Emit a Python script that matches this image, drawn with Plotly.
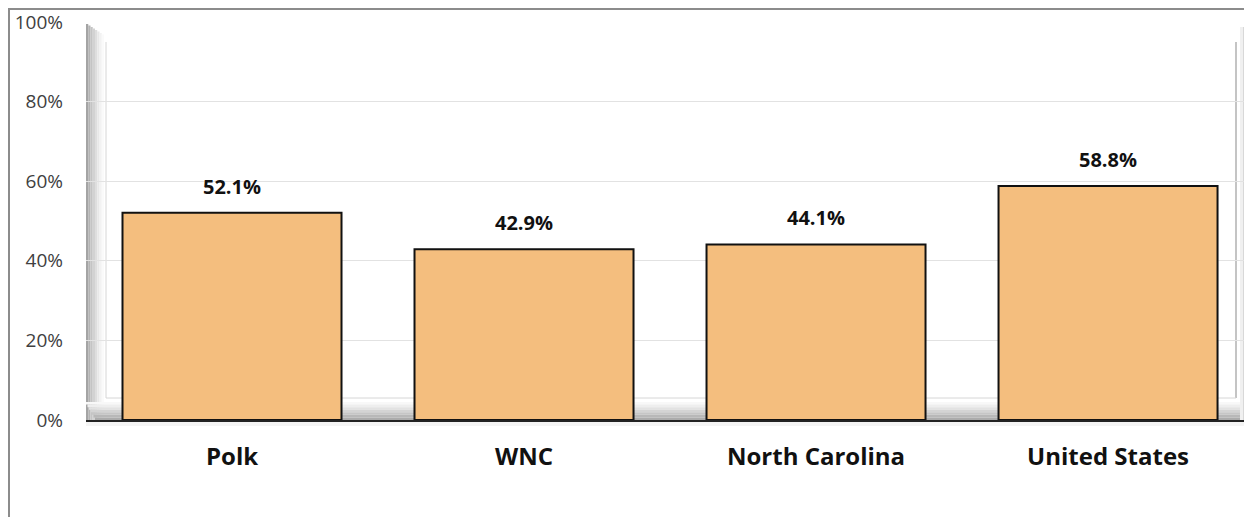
# Share of population by area - Excel style 3D column chart

import plotly.graph_objects as go

areas = ['Polk', 'WNC', 'North Carolina', 'United States']
shares = [52.1, 42.9, 44.1, 58.8]
y_ticks = [0, 20, 40, 60, 80, 100]
y_tick_labels = ['0%', '20%', '40%', '60%', '80%', '100%']

# page has an 8px body margin, so the figure is drawn 8px in from the top left
OFF = 8
W, H = 1252 - OFF, 517 - OFF
L, R, T, B = 86, 1252, 22, 420   # plot area in screen pixels

# convert screen pixel positions to paper coordinates
def px(x):
    return (x - L) / (R - L)

def py(y):
    return (B - y) / (B - T)

shapes = []

# outer chart border
shapes.append(dict(type='rect', xref='paper', yref='paper',
                   x0=px(9), x1=px(1300), y0=py(560), y1=py(9),
                   line=dict(color='#8C8C8C', width=2), fillcolor='rgba(0,0,0,0)',
                   layer='below'))

# left wall bevel
wall_cols = ['#A4A4A4', '#B4B4B4', '#C4C4C4', '#D2D2D2', '#DEDEDE', '#E8E8E8', '#F2F2F2', '#FAFAFA']
step = 18 / len(wall_cols)
for i, c in enumerate(wall_cols):
    shapes.append(dict(type='rect', xref='paper', yref='paper',
                       x0=px(86 + i * step), x1=px(86 + (i + 1) * step),
                       y0=py(420), y1=py(24 + i * 1.5),
                       line=dict(width=0), fillcolor=c, layer='below'))

# floor bevel
floor_cols = ['#F8F8F8', '#EEEEEE', '#E2E2E2', '#D4D4D4', '#C6C6C6', '#B8B8B8', '#ABABAB']
step = 18 / len(floor_cols)
for i, c in enumerate(floor_cols):
    shapes.append(dict(type='rect', xref='paper', yref='paper',
                       x0=px(86 + i * 1.5), x1=px(1252),
                       y0=py(402 + (i + 1) * step), y1=py(402 + i * step),
                       line=dict(width=0), fillcolor=c, layer='below'))

# right wall bevel (mostly clipped)
right_cols = ['#F0F0F0', '#D8D8D8', '#BDBDBD', '#A8A8A8']
for i, c in enumerate(right_cols):
    shapes.append(dict(type='rect', xref='paper', yref='paper',
                       x0=px(1240 + i * 3), x1=px(1243 + i * 3),
                       y0=py(420), y1=py(27),
                       line=dict(width=0), fillcolor=c, layer='below'))

# inner frame of the back wall
shapes.append(dict(type='line', xref='paper', yref='paper',
                   x0=px(106), x1=px(106), y0=py(398), y1=py(42),
                   line=dict(color='#D6D6D6', width=1), layer='below'))
shapes.append(dict(type='line', xref='paper', yref='paper',
                   x0=px(1236), x1=px(1236), y0=py(398), y1=py(42),
                   line=dict(color='#B0B0B0', width=1.5), layer='below'))
shapes.append(dict(type='line', xref='paper', yref='paper',
                   x0=px(106), x1=px(1236), y0=py(398), y1=py(398),
                   line=dict(color='#D6D6D6', width=1), layer='below'))

# soft shadow under the floor
shapes.append(dict(type='rect', xref='paper', yref='paper',
                   x0=px(86), x1=px(1252), y0=py(426), y1=py(420),
                   line=dict(width=0), fillcolor='#F4F4F4', layer='below'))

fig = go.Figure()

fig.add_trace(go.Bar(x=areas,
                     y=shares,
                     marker=dict(color='#F4BE7E', line=dict(color='#111111', width=2)),
                     hovertemplate='%{x} : %{y}%<extra></extra>'))

annotations = []
for a, s in zip(areas, shares):
    annotations.append(dict(x=a, y=s, text=f'<b>{s:.1f}%</b>', showarrow=False,
                            yanchor='bottom', yshift=11,
                            font=dict(family='Open Sans', size=20, color='#111111')))

fig.update_xaxes(range=[-0.5, 3.493],
                 showgrid=False,
                 showline=True, linecolor='#222222', linewidth=1.5,
                 ticks='', ticklabelstandoff=14,
                 tickfont=dict(family='Open Sans', size=24, color='#111111', weight='bold'))

fig.update_yaxes(range=[0, 100],
                 tickvals=y_ticks, ticktext=y_tick_labels,
                 showgrid=True, gridcolor='#E2E2E2', gridwidth=1,
                 zeroline=False, showline=False,
                 ticks='', ticklabelstandoff=22,
                 tickfont=dict(family='Open Sans', size=19, color='#404040'))

fig.update_layout(width=W, height=H,
                  margin=dict(l=L - OFF, r=0, t=T - OFF, b=H - (B - OFF), pad=0),
                  plot_bgcolor='white', paper_bgcolor='white',
                  bargap=0.25,
                  showlegend=False,
                  shapes=shapes,
                  annotations=annotations)

fig.write_html('out.html')
